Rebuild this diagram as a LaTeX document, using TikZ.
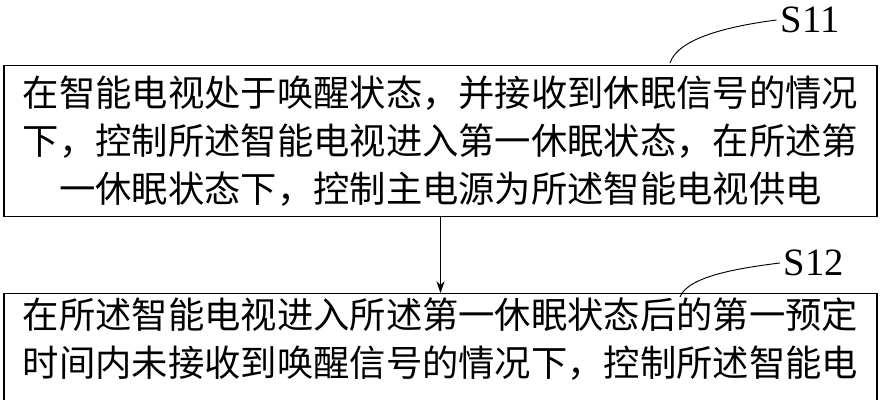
\documentclass[tikz,border=0pt]{standalone}
\usepackage{fontspec}
\setmainfont{Liberation Serif}
\newfontfamily\cjk{Noto Sans CJK SC}
\usetikzlibrary{positioning,arrows.meta}
\tikzset{
  stepbox/.style={draw, very thick, text width=25.6cm, align=center, inner xsep=0.3cm,
    font=\cjk\fontsize{31}{41}\selectfont},
  steplabel/.style={font=\fontsize{33}{36}\selectfont},
}
\begin{document}
\begin{tikzpicture}[x=0.03cm,y=-0.03cm]
\useasboundingbox (0,0) rectangle (888,400);
\clip (0,0) rectangle (888,400);
\node[stepbox, minimum height=151*0.03cm, anchor=north] (s11box) at (440.5,65)
  {在智能电视处于唤醒状态，并接收到休眠信号的情况\\下，控制所述智能电视进入第一休眠状态，在所述第\\一休眠状态下，控制主电源为所述智能电视供电};
\node[stepbox, anchor=north] (s12box) at (440.5,293)
  {在所述智能电视进入所述第一休眠状态后的第一预定\\时间内未接收到唤醒信号的情况下，控制所述智能电\\\mbox{}};
\node[steplabel] (s11) at (810,20) {S11};
\node[steplabel] (s12) at (814,263) {S12};
\draw[thick, -{Stealth[length=10pt,width=7pt]}] (s11box) -- (s12box);
\draw[thick] (670,63) .. controls (678,38) and (730,26) .. (s11.west);
\draw[thick] (680,297) .. controls (688,276) and (740,268) .. (s12.west);
\end{tikzpicture}
\end{document}
